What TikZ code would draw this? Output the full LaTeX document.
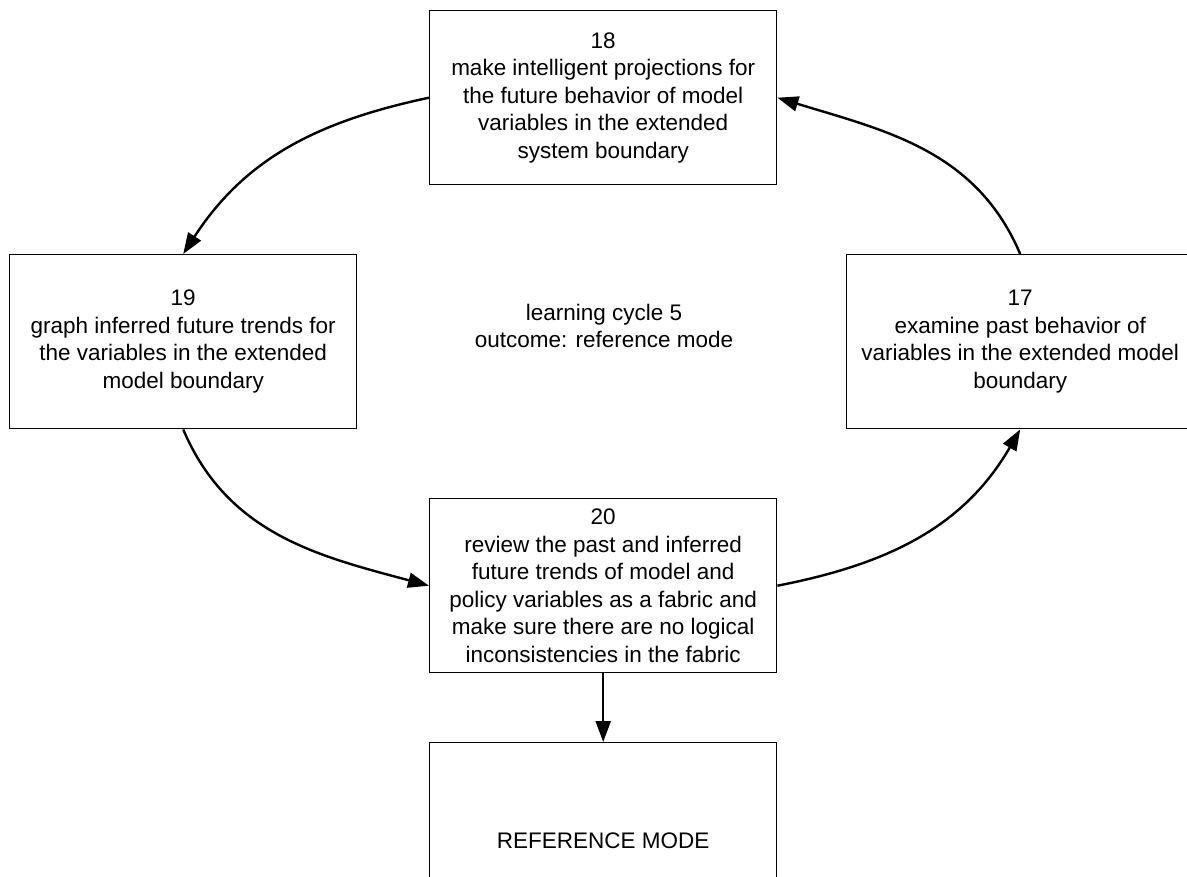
\documentclass[tikz,border=0pt]{standalone}
\usepackage{fontspec}
\setmainfont{Liberation Sans}
\usetikzlibrary{arrows.meta}
\begin{document}
\begin{tikzpicture}[x=1pt,y=-1pt,
  stepbox/.style={draw, line width=1.4pt, minimum width=347pt, minimum height=174pt,
    align=center, inner sep=0pt, anchor=north west,
    font=\fontsize{22.5}{27.5}\selectfont},
  note/.style={align=center, font=\fontsize{22.5}{27.5}\selectfont},
  flow/.style={line width=2.4pt, -{Triangle[length=21pt,width=15pt]}}]
\useasboundingbox (0,0) rectangle (1187,877);
\clip (0,0) rectangle (1187,877);

% the four steps of the cycle
\node[stepbox] (b18) at (429,10)
  {18\\make intelligent projections for\\the future behavior of model\\variables in the extended\\system boundary};
\node[stepbox] (b19) at (9,254)
  {19\\graph inferred future trends for\\the variables in the extended\\model boundary};
\node[stepbox] (b17) at (846,254)
  {17\\examine past behavior of\\variables in the extended model\\boundary};
\node[stepbox] (b20) at (429,498)
  {20\\review the past and inferred\\future trends of model and\\policy variables as a fabric and\\make sure there are no logical\\inconsistencies in the fabric};

% outcome of the cycle
\node[stepbox, minimum height=196pt] (ref) at (429,742) {REFERENCE MODE};

% label in the middle of the loop
\node[note] (mid) at (604,326) {learning cycle 5\\outcome: reference mode};

% cycle connectors
\draw[flow] (b18.west) to[out=192, in=57] (b19.north);
\draw[flow] (b19.south) to[out=-67, in=165] (b20.west);
\draw[flow] (b20.east) to[out=11, in=240] (b17.south);
\draw[flow] (b17.north) to[out=113, in=-17] (b18.east);
\draw[flow] (b20.south) -- (ref.north);
\end{tikzpicture}
\end{document}
